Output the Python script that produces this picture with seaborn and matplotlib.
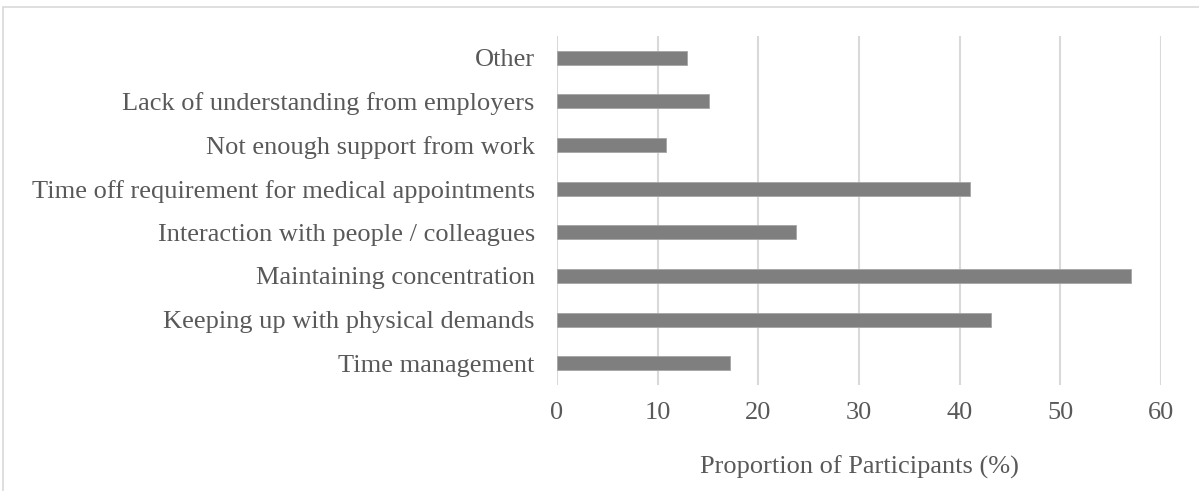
import matplotlib
matplotlib.use("Agg")
import matplotlib.pyplot as plt
import seaborn as sns
import pandas as pd
from matplotlib.patches import Rectangle

# Workplace challenges, listed top to bottom
challenges = [
    "Other",
    "Lack of understanding from employers",
    "Not enough support from work",
    "Time off requirement for medical appointments",
    "Interaction with people / colleagues",
    "Maintaining concentration",
    "Keeping up with physical demands",
    "Time management",
]
proportions = [12.9, 15.1, 10.8, 41.0, 23.7, 57.0, 43.1, 17.2]
x_ticks = [0, 10, 20, 30, 40, 50, 60]
x_label = "Proportion of Participants (%)"

df = pd.DataFrame({"challenge": challenges, "proportion": proportions})

sns.set_theme(style="white")
plt.rcParams["font.family"] = ["Liberation Serif", "DejaVu Serif"]

text_color = "#595959"
grid_color = "#d9d9d9"
fs = 19

W, H = 1199, 491
fig = plt.figure(figsize=(W / 100, H / 100), dpi=100)
ax = fig.add_axes([557 / W, 1 - 385 / H, (1161 - 557) / W, (385 - 36) / H])

sns.barplot(data=df, x="proportion", y="challenge", order=challenges,
            color="#7f7f7f", saturation=1, width=0.32, ax=ax,
            edgecolor="#a6a6a6", linewidth=0.6)

ax.set_xlim(0, 60)
ax.set_xticks(x_ticks)
ax.xaxis.grid(True, color=grid_color, linewidth=1.5)
ax.yaxis.grid(False)
ax.set_axisbelow(True)
for s in ax.spines.values():
    s.set_visible(False)
ax.tick_params(axis="both", length=0, labelsize=fs, labelcolor=text_color)
ax.tick_params(axis="x", pad=12)
ax.tick_params(axis="y", pad=16)
ax.set_ylabel("")
ax.set_xlabel(x_label, fontsize=fs, color=text_color, labelpad=23)

# light outer chart frame
fig.patches.append(Rectangle((3 / W, -0.1), 1.2, 1 - 7 / H + 0.1,
                             transform=fig.transFigure, fill=False,
                             edgecolor=grid_color, linewidth=1.2,
                             clip_on=False, zorder=0))

fig.savefig("out.png", dpi=100)
